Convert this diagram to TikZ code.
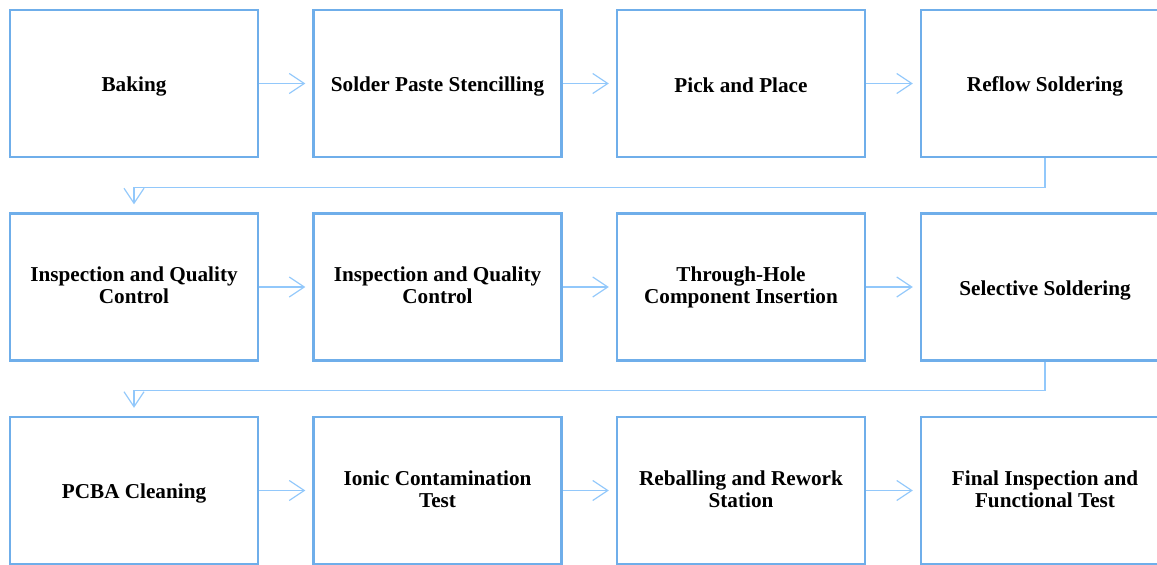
\documentclass[tikz,border=0pt]{standalone}
\usepackage{fontspec}
\setmainfont{Liberation Serif}
\usetikzlibrary{arrows.meta,calc}
\definecolor{boxblue}{HTML}{6FAEEA}
\definecolor{arrblue}{HTML}{92C8FB}
\newcommand\mystrut{\rule[-3pt]{0pt}{24pt}}
\begin{document}
\begin{tikzpicture}[x=1pt,y=-1pt,
  stepbox/.style={draw=boxblue, line width=2.4pt, rectangle, minimum width=248pt, minimum height=147pt, inner sep=0pt, align=center, font=\fontsize{21.2}{22}\selectfont\bfseries, execute at begin node=\mystrut, execute at end node=\mystrut},
  conn/.style={draw=arrblue, line width=1.2pt, -{Straight Barb[length=15pt,width=20pt,line width=1.2pt]}}]
\useasboundingbox (0,0) rectangle (1157,565);
\clip (0,0) rectangle (1157,565);
\node[stepbox] (b1) at (134,83.5) {Baking};
\node[stepbox] (b2) at (437.5,83.5) {Solder Paste Stencilling};
\node[stepbox] (b3) at (741,83.5) {Pick and Place};
\node[stepbox] (b4) at (1045,83.5) {Reflow Soldering};
\node[stepbox] (b5) at (134,287) {Inspection and Quality\\Control};
\node[stepbox] (b6) at (437.5,287) {Inspection and Quality\\Control};
\node[stepbox] (b7) at (741,287) {Through-Hole\\Component Insertion};
\node[stepbox] (b8) at (1045,287) {Selective Soldering};
\node[stepbox] (b9) at (134,490.5) {PCBA Cleaning};
\node[stepbox] (b10) at (437.5,490.5) {Ionic Contamination\\Test};
\node[stepbox] (b11) at (741,490.5) {Reballing and Rework\\Station};
\node[stepbox] (b12) at (1045,490.5) {Final Inspection and\\Functional Test};
\foreach \a/\b in {b1/b2,b2/b3,b3/b4,b5/b6,b6/b7,b7/b8,b9/b10,b10/b11,b11/b12}
  \draw[conn, shorten >=7pt] (\a.east) -- (\b.west);
\draw[conn, shorten >=8pt] (b4.south) -- ++(0,29) -| (b5.north);
\draw[conn, shorten >=8pt] (b8.south) -- ++(0,29) -| (b9.north);
\end{tikzpicture}
\end{document}
